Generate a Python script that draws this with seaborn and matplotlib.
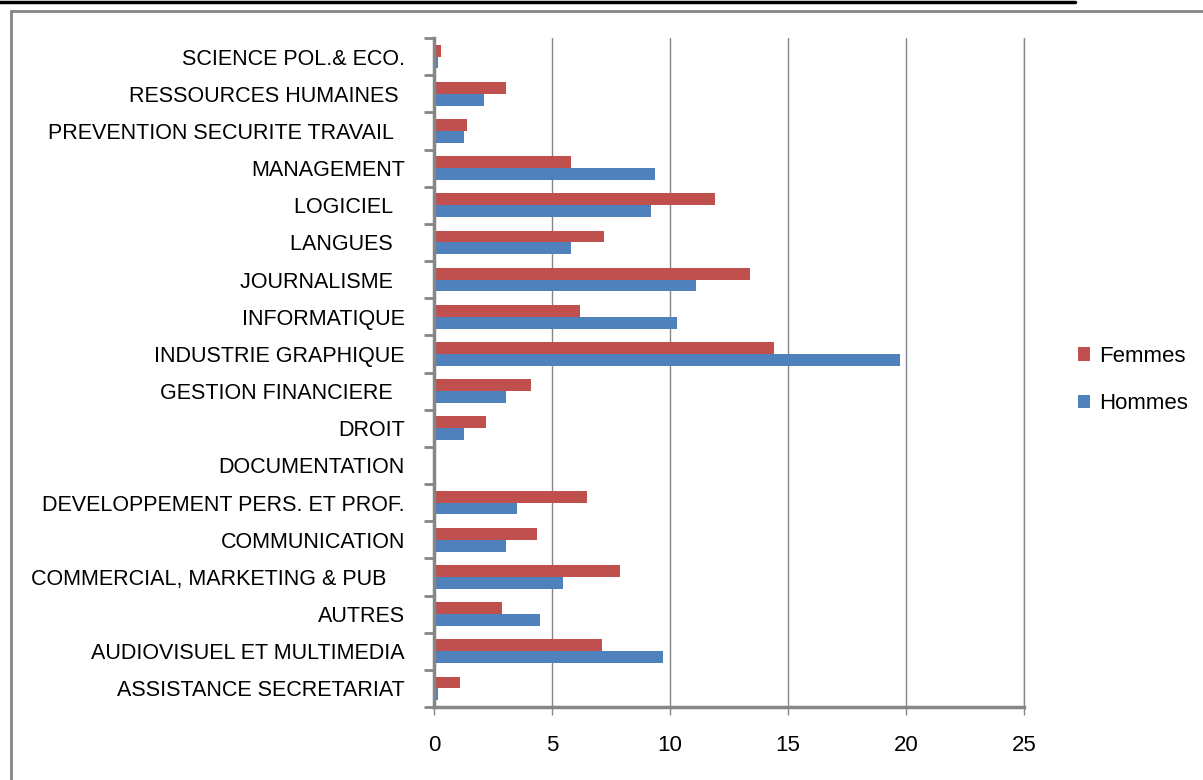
import seaborn as sns
import matplotlib.pyplot as plt
import matplotlib.lines as mlines
import pandas as pd
import numpy as np

# categories top -> bottom
domaines = ['SCIENCE POL.& ECO.', 'RESSOURCES HUMAINES ', 'PREVENTION SECURITE TRAVAIL  ',
            'MANAGEMENT', 'LOGICIEL  ', 'LANGUES  ', 'JOURNALISME  ', 'INFORMATIQUE',
            'INDUSTRIE GRAPHIQUE', 'GESTION FINANCIERE  ', 'DROIT', 'DOCUMENTATION',
            'DEVELOPPEMENT PERS. ET PROF.', 'COMMUNICATION', 'COMMERCIAL, MARKETING & PUB   ',
            'AUTRES', 'AUDIOVISUEL ET MULTIMEDIA', 'ASSISTANCE SECRETARIAT']
femmes = [0.3, 3.05, 1.4, 5.8, 11.9, 7.2, 13.4, 6.2, 14.4, 4.1, 2.2, 0.08, 6.5, 4.35, 7.9, 2.9, 7.1, 1.1]
hommes = [0.15, 2.1, 1.27, 9.35, 9.2, 5.8, 11.1, 10.3, 19.75, 3.05, 1.27, 0.0, 3.5, 3.05, 5.45, 4.5, 9.7, 0.15]
xticks = [0, 5, 10, 15, 20, 25]

df = pd.DataFrame({'domaine': domaines * 2,
                   'valeur': femmes + hommes,
                   'sexe': ['Femmes'] * len(femmes) + ['Hommes'] * len(hommes)})

sns.set_style('white')
plt.rcParams['font.family'] = ['Liberation Sans', 'DejaVu Sans']
plt.rcParams['text.color'] = 'black'
plt.rcParams['xtick.labelcolor'] = 'black'
plt.rcParams['ytick.labelcolor'] = 'black'

fig = plt.figure(figsize=(12.03, 7.8), dpi=100)
ax = fig.add_axes([434/1203, 1 - 707/780, 590/1203, 669/780])

sns.barplot(data=df, y='domaine', x='valeur', hue='sexe', hue_order=['Femmes', 'Hommes'],
            palette={'Femmes': '#C0504D', 'Hommes': '#4F81BD'}, orient='h',
            width=0.64, saturation=1, linewidth=0, ax=ax)

grey = '#868686'
ax.set_xlim(0, 25)
ax.set_ylim(len(domaines) - 0.5, -0.5)
ax.set_xticks(xticks)
ax.set_xticklabels([str(t) for t in xticks], fontsize=16)
ax.set_xlabel('')
ax.set_ylabel('')
ax.xaxis.grid(True, color=grey, lw=1)
ax.axvline(25, color=grey, lw=1, clip_on=False, zorder=0)
ax.set_axisbelow(True)
for s in ['top', 'right']:
    ax.spines[s].set_visible(False)
for s in ['left', 'bottom']:
    ax.spines[s].set_color(grey)
    ax.spines[s].set_linewidth(2.5)

ax.tick_params(axis='x', length=6, width=1, color=grey, pad=14, direction='out', bottom=True,
               labelcolor='black')
ax.tick_params(axis='y', which='major', length=0, pad=21, labelsize=15.5, labelcolor='black')
ax.set_yticks(np.arange(-0.5, len(domaines), 1), minor=True)
ax.tick_params(axis='y', which='minor', length=7, width=2, color=grey, left=True)

leg = ax.legend(loc='center left', bbox_to_anchor=(1058/1203, 400/780),
                bbox_transform=fig.transFigure, frameon=False, fontsize=16,
                handlelength=0.55, handleheight=0.55, handletextpad=0.4, labelspacing=1.2)
for t in leg.get_texts():
    t.set_color('black')

# outer frame of the pasted chart
fig.add_artist(mlines.Line2D([11/1203, 11/1203], [0, 1 - 11/780], color=grey, lw=2,
                             transform=fig.transFigure))
fig.add_artist(mlines.Line2D([11/1203, 1], [1 - 11/780, 1 - 11/780], color=grey, lw=2,
                             transform=fig.transFigure))
fig.add_artist(mlines.Line2D([0, 1075/1203], [1 - 1.5/780, 1 - 1.5/780], color='black', lw=2.5,
                             transform=fig.transFigure))

fig.savefig('out.png', dpi=100)
